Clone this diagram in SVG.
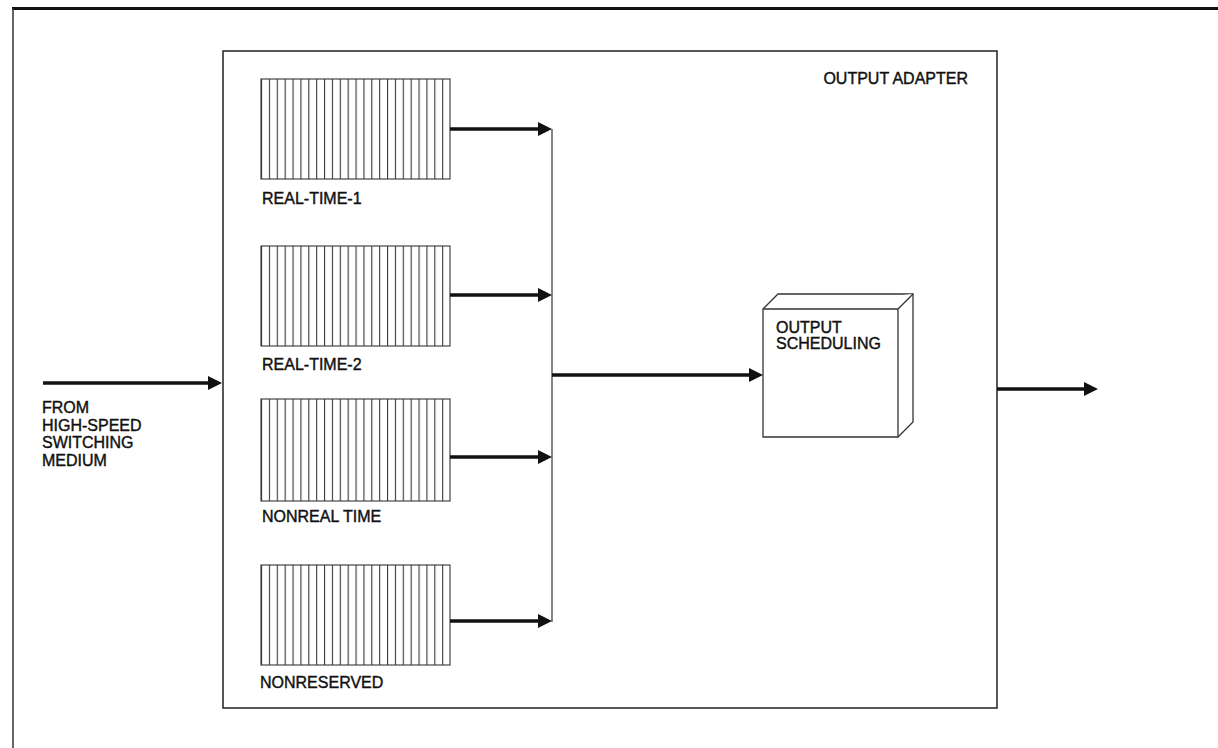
<svg xmlns="http://www.w3.org/2000/svg" width="1218" height="748" viewBox="0 0 1218 748">
  <style>
    .lbl { font-family: "Liberation Sans", Arial, Helvetica, sans-serif; font-size: 16px; fill: #111; stroke: #111; stroke-width: 0.4; }
    .frame { fill: none; stroke: #222; }
    .queue { fill: url(#stripes); stroke: #333; stroke-width: 1.1; }
    .thick { stroke: #111; stroke-width: 3.5; fill: none; marker-end: url(#arrow); }
    .thin { stroke: #333; stroke-width: 1.2; fill: none; }
    .box { fill: #fff; stroke: #333; stroke-width: 1.3; stroke-linejoin: miter; }
  </style>
  <defs>
    <marker id="arrow" viewBox="0 0 14 14" refX="2" refY="7" markerWidth="14" markerHeight="14" markerUnits="userSpaceOnUse" orient="auto">
      <path d="M0,0 L14,7 L0,14 Z" fill="#111"/>
    </marker>
    <pattern id="stripes" patternUnits="userSpaceOnUse" x="261" y="0" width="7.875" height="20">
      <rect x="0" y="0" width="7.875" height="20" fill="#fff"/>
      <rect x="0" y="0" width="1.1" height="20" fill="#3a3a3a"/>
    </pattern>
  </defs>
  <rect width="1218" height="748" fill="#fff"/>

  <g id="outer-frame">
    <line x1="12" y1="8.5" x2="1218" y2="8.5" stroke="#111" stroke-width="3"/>
    <line x1="13" y1="8" x2="13" y2="748" stroke="#333" stroke-width="1.5"/>
  </g>

  <g id="output-adapter">
    <rect class="frame" x="223" y="51" width="774" height="657" stroke-width="1.5"/>
    <text class="lbl" x="968" y="84" text-anchor="end">OUTPUT ADAPTER</text>
  </g>

  <g id="queue-rt1">
    <rect class="queue" x="261" y="79" width="189" height="100"/>
    <text class="lbl" x="262" y="204">REAL-TIME-1</text>
  </g>
  <g id="queue-rt2">
    <rect class="queue" x="261" y="246" width="189" height="100"/>
    <text class="lbl" x="262" y="370">REAL-TIME-2</text>
  </g>
  <g id="queue-nrt">
    <rect class="queue" x="261" y="399" width="189" height="102"/>
    <text class="lbl" x="262" y="522">NONREAL TIME</text>
  </g>
  <g id="queue-nres">
    <rect class="queue" x="261" y="565" width="189" height="100"/>
    <text class="lbl" x="260" y="688">NONRESERVED</text>
  </g>

  <g id="output-scheduling">
    <path class="box" d="M763,309 L778,294 L913,294 L913,422 L898,437 L763,437 Z"/>
    <path class="box" d="M763,309 L898,309 L913,294 M898,309 L898,437"/>
    <text class="lbl" x="776" y="333">OUTPUT</text>
    <text class="lbl" x="776" y="349">SCHEDULING</text>
  </g>

  <g id="input-label">
    <text class="lbl" x="42" y="413">FROM</text>
    <text class="lbl" x="42" y="431">HIGH-SPEED</text>
    <text class="lbl" x="42" y="448">SWITCHING</text>
    <text class="lbl" x="42" y="466">MEDIUM</text>
  </g>

  <g id="connectors">
    <line class="thick" x1="43" y1="383" x2="210" y2="383"/>
    <line class="thick" x1="450" y1="129" x2="540" y2="129"/>
    <line class="thick" x1="450" y1="295" x2="540" y2="295"/>
    <line class="thick" x1="450" y1="457" x2="540" y2="457"/>
    <line class="thick" x1="450" y1="621" x2="540" y2="621"/>
    <line class="thin" x1="552" y1="129" x2="552" y2="622"/>
    <line class="thick" x1="552" y1="375" x2="751" y2="375"/>
    <line class="thick" x1="997" y1="389" x2="1086" y2="389"/>
  </g>
</svg>
